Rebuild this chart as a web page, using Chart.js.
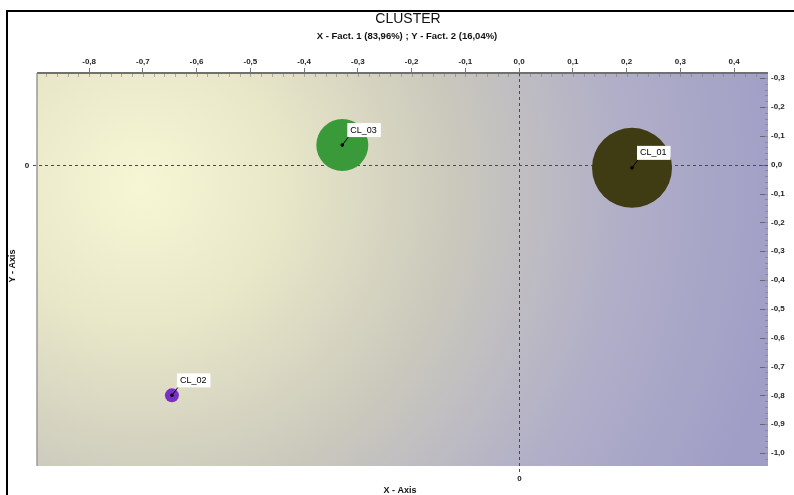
<!DOCTYPE html>
<html>
<head>
<meta charset="utf-8">
<script src="https://cdn.jsdelivr.net/npm/chart.js@4/dist/chart.umd.min.js"></script>
<style>
  html,body{margin:0;padding:0;background:#fff;}
  #wrap{position:relative;width:794px;height:495px;}
</style>
</head>
<body>
<div id="wrap"><canvas id="c" width="794" height="495"></canvas></div>
<script>
// ---- data ----
const clusterNames = ["CL_01", "CL_02", "CL_03"];
const factor1 = [0.210, -0.646, -0.329];      // X - Fact. 1
const factor2 = [-0.011, -0.800, 0.068];      // Y - Fact. 2
const bubbleRadius = [40, 7, 26];             // px
const bubbleColors = ["#3f3b12", "#7a2fc9", "#3a9a3a"];

const xTickValues = [-0.8,-0.7,-0.6,-0.5,-0.4,-0.3,-0.2,-0.1,0.0,0.1,0.2,0.3,0.4];
const xTickLabels = ["-0,8","-0,7","-0,6","-0,5","-0,4","-0,3","-0,2","-0,1","0,0","0,1","0,2","0,3","0,4"];
const yTickValues = [0.3,0.2,0.1,0.0,-0.1,-0.2,-0.3,-0.4,-0.5,-0.6,-0.7,-0.8,-0.9,-1.0];
const yTickLabels = ["-0,3","-0,2","-0,1","0,0","-0,1","-0,2","-0,3","-0,4","-0,5","-0,6","-0,7","-0,8","-0,9","-1,0"];

const titleText = "CLUSTER";
const subtitleText = "X - Fact. 1 (83,96%) ; Y - Fact. 2 (16,04%)";
const xAxisTitle = "X - Axis";
const yAxisTitle = "Y - Axis";

const FONT = '"Liberation Sans", Arial, sans-serif';

const bgPlugin = {
  id: 'bg',
  beforeDraw(chart) {
    const {ctx, chartArea: a} = chart;
    ctx.save();
    ctx.fillStyle = '#fff';
    ctx.fillRect(0,0,chart.width,chart.height);
    const g = ctx.createRadialGradient(140,185,0,140,185,650);
    g.addColorStop(0, '#f7f6d4');
    g.addColorStop(0.22, '#e8e7c8');
    g.addColorStop(0.48, '#cbc9bc');
    g.addColorStop(0.75, '#b0aec8');
    g.addColorStop(1, '#a09ec6');
    ctx.fillStyle = g;
    ctx.fillRect(a.left, a.top, a.right-a.left, a.bottom-a.top);
    // minor ticks inside along top and right
    const xs = chart.scales.x, ys = chart.scales.y;
    ctx.strokeStyle = 'rgba(120,120,120,0.55)';
    ctx.lineWidth = 1;
    for (let v = -0.88; v <= 0.46; v += 0.02) {
      const px = Math.round(xs.getPixelForValue(v)) + 0.5;
      ctx.beginPath(); ctx.moveTo(px, a.top); ctx.lineTo(px, a.top + 4); ctx.stroke();
    }
    for (let v = 0.3; v >= -1.04; v -= 0.02) {
      const py = Math.round(ys.getPixelForValue(v)) + 0.5;
      ctx.beginPath(); ctx.moveTo(a.right - 3, py); ctx.lineTo(a.right, py); ctx.stroke();
    }
    ctx.strokeStyle = 'rgba(90,90,90,0.8)';
    yTickValues.forEach(v => {
      const py = Math.round(ys.getPixelForValue(v)) + 0.5;
      ctx.beginPath(); ctx.moveTo(a.right - 8, py); ctx.lineTo(a.right - 3, py); ctx.stroke();
    });
    // borders
    ctx.strokeStyle = '#707070'; ctx.lineWidth = 2;
    ctx.beginPath(); ctx.moveTo(a.left, a.top); ctx.lineTo(a.right, a.top); ctx.stroke();
    ctx.strokeStyle = '#9a9a9a'; ctx.lineWidth = 1.5;
    ctx.beginPath(); ctx.moveTo(a.left, a.top); ctx.lineTo(a.left, a.bottom); ctx.stroke();
    // zero lines
    const x0 = Math.round(xs.getPixelForValue(0)) + 0.5;
    const y0 = Math.round(ys.getPixelForValue(0)) + 0.5;
    ctx.strokeStyle = '#4a4a4a'; ctx.lineWidth = 1; ctx.setLineDash([3,3]);
    ctx.beginPath(); ctx.moveTo(33, y0); ctx.lineTo(a.right, y0); ctx.stroke();
    ctx.beginPath(); ctx.moveTo(x0, a.top); ctx.lineTo(x0, 474); ctx.stroke();
    ctx.setLineDash([]);
    ctx.fillStyle = '#222';
    ctx.font = 'bold 8px ' + FONT;
    ctx.textAlign = 'center'; ctx.textBaseline = 'middle';
    ctx.fillText('0', 27, y0);
    ctx.fillText('0', x0, 479);
    // outer frame
    ctx.strokeStyle = '#000'; ctx.lineWidth = 2;
    ctx.beginPath(); ctx.moveTo(7, 495); ctx.lineTo(7, 11); ctx.lineTo(794, 11); ctx.stroke();
    // titles
    ctx.fillStyle = '#111';
    ctx.font = '14px ' + FONT;
    ctx.fillText(titleText, 408, 19);
    ctx.font = 'bold 9.5px ' + FONT;
    ctx.fillText(subtitleText, 407, 36);
    ctx.font = 'bold 9px ' + FONT;
    ctx.fillText(xAxisTitle, 400, 491);
    ctx.save();
    ctx.translate(13, 266); ctx.rotate(-Math.PI/2);
    ctx.fillText(yAxisTitle, 0, 0);
    ctx.restore();
    ctx.restore();
  },
  afterDatasetsDraw(chart) {
    const {ctx} = chart;
    const meta = chart.getDatasetMeta(0);
    ctx.save();
    meta.data.forEach((el, i) => {
      const cx = el.x, cy = el.y;
      ctx.strokeStyle = '#000'; ctx.lineWidth = 1;
      ctx.beginPath(); ctx.moveTo(cx, cy); ctx.lineTo(cx + 6, cy - 8); ctx.stroke();
      ctx.fillStyle = '#000';
      ctx.beginPath(); ctx.arc(cx, cy, 1.8, 0, Math.PI*2); ctx.fill();
      ctx.font = '9px ' + FONT;
      const w = ctx.measureText(clusterNames[i]).width + 7;
      ctx.fillStyle = '#fff';
      ctx.fillRect(cx + 5, cy - 22, w, 14);
      ctx.fillStyle = '#000';
      ctx.textAlign = 'left'; ctx.textBaseline = 'middle';
      ctx.fillText(clusterNames[i], cx + 8, cy - 15);
    });
    ctx.restore();
  }
};

new Chart(document.getElementById('c'), {
  type: 'bubble',
  data: {
    datasets: [{
      data: clusterNames.map((n, i) => ({x: factor1[i], y: factor2[i], r: bubbleRadius[i]})),
      backgroundColor: bubbleColors,
      borderColor: bubbleColors,
      borderWidth: 0,
      hoverRadius: 0
    }]
  },
  options: {
    responsive: false,
    animation: false,
    events: [],
    layout: { autoPadding: false, padding: { left: 37, top: 51, right: 0, bottom: 29 } },
    plugins: { legend: { display: false }, tooltip: { enabled: false }, title: { display: false } },
    scales: {
      x: {
        type: 'linear', position: 'top', min: -0.897, max: 0.463,
        afterBuildTicks(s) { s.ticks = xTickValues.map(v => ({value: v})); },
        afterFit(s) { s.height = 22; },
        grid: { drawOnChartArea: false, drawTicks: true, tickLength: 5, color: '#777', tickColor: '#777', lineWidth: 1 },
        border: { display: false },
        ticks: {
          autoSkip: false, maxRotation: 0, padding: 1,
          color: '#222', font: { family: FONT, size: 8, weight: 'bold' },
          callback: (v, i) => xTickLabels[i]
        }
      },
      y: {
        type: 'linear', position: 'right', min: -1.045, max: 0.318,
        afterBuildTicks(s) { s.ticks = yTickValues.map(v => ({value: v})); },
        afterFit(s) { s.width = 26; },
        grid: { drawOnChartArea: false, drawTicks: false },
        border: { display: false },
        ticks: {
          autoSkip: false, padding: 3,
          color: '#222', font: { family: FONT, size: 8, weight: 'bold' },
          callback: (v, i) => yTickLabels[i]
        }
      }
    }
  },
  plugins: [bgPlugin]
});
</script>
</body>
</html>
